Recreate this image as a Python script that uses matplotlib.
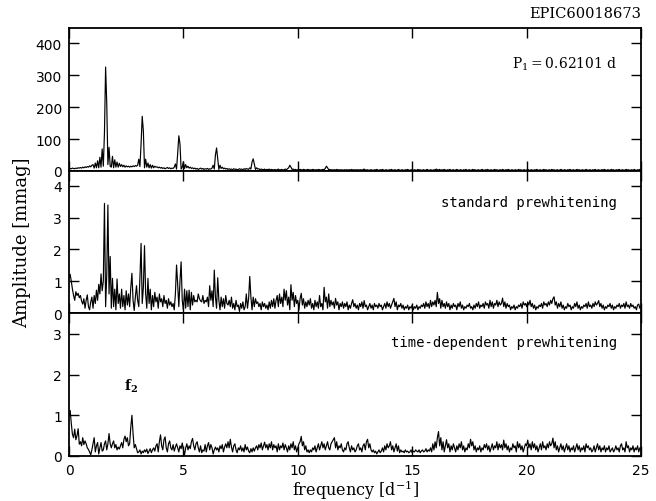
import numpy as np
import matplotlib
matplotlib.use("Agg")
import matplotlib.pyplot as plt

plt.rcParams["mathtext.fontset"] = "dejavuserif"

# Frequency sampling of the amplitude spectra [d^-1]
f_step = 0.05

# Original light curve spectrum [mmag]
amp_original = [
    6, 8, 7, 9, 8, 7, 9, 8, 10, 9,
    11, 9, 12, 10, 13, 11, 14, 12, 16, 13,
    18, 20, 9, 25, 10, 32, 10, 43, 12, 69,
    15, 120, 325, 210, 20, 74, 15, 12, 46, 10,
    35, 12, 28, 12, 24, 14, 20, 13, 18, 12,
    16, 13, 15, 12, 15, 13, 16, 14, 17, 15,
    18, 37, 14, 85, 171, 125, 10, 37, 12, 25,
    10, 20, 9, 18, 10, 15, 12, 13, 10, 12,
    9, 11, 8, 10, 7, 9, 11, 8, 10, 7,
    9, 8, 12, 22, 6, 55, 110, 85, 6, 12,
    29, 8, 20, 10, 15, 9, 12, 8, 10, 7,
    9, 6, 8, 5, 7, 9, 6, 8, 5, 7,
    6, 8, 5, 7, 6, 9, 18, 6, 50, 72,
    40, 5, 18, 8, 12, 7, 9, 6, 8, 5,
    7, 5, 6, 4, 7, 5, 6, 4, 5, 7,
    5, 6, 4, 7, 5, 8, 6, 5, 10, 6,
    28, 38, 22, 5, 10, 6, 7, 4, 6, 5,
    4, 6, 3, 5, 4, 6, 3, 5, 4, 3,
    5, 3, 4, 6, 3, 4, 5, 3, 4, 6,
    4, 7, 10, 18, 12, 5, 6, 4, 5, 3,
    4, 3, 5, 4, 3, 5, 4, 3, 4, 5,
    3, 4, 3, 5, 4, 3, 4, 3, 5, 4,
    3, 4, 5, 4, 8, 15, 10, 4, 5, 3,
    4, 3, 4, 3, 5, 3, 4, 3, 4, 3,
    3, 4, 3, 4, 3, 4, 3, 5, 3, 4,
    3, 4, 3, 4, 3, 4, 3, 4, 6, 3,
    3, 4, 2, 3, 4, 3, 2, 4, 3, 5,
    3, 2, 4, 3, 5, 3, 2, 4, 3, 2,
    4, 3, 5, 2, 3, 4, 2, 3, 5, 3,
    2, 4, 3, 2, 4, 3, 5, 3, 2, 4,
    3, 2, 4, 3, 2, 5, 3, 4, 2, 3,
    4, 2, 3, 5, 3, 2, 4, 3, 2, 4,
    3, 6, 4, 3, 5, 2, 4, 3, 5, 3,
    2, 4, 3, 5, 2, 3, 4, 2, 3, 5,
    3, 2, 4, 3, 2, 4, 3, 5, 2, 3,
    4, 2, 3, 5, 3, 4, 2, 3, 4, 2,
    3, 5, 3, 2, 4, 3, 5, 2, 3, 4,
    2, 3, 5, 3, 4, 2, 3, 4, 2, 5,
    3, 2, 4, 3, 5, 3, 2, 4, 3, 2,
    4, 3, 2, 5, 3, 4, 2, 3, 4, 2,
    3, 5, 3, 2, 4, 3, 2, 4, 3, 5,
    2, 3, 4, 2, 3, 5, 3, 4, 2, 3,
    4, 2, 5, 3, 4, 2, 3, 4, 2, 3,
    5, 3, 2, 4, 3, 2, 4, 3, 5, 2,
    3, 4, 2, 3, 5, 3, 4, 2, 3, 4,
    2, 3, 5, 3, 2, 4, 3, 2, 4, 3,
    5, 2, 3, 4, 2, 3, 4, 3, 5, 3,
    2, 4, 3, 2, 5, 3, 4, 2, 3, 4,
    3, 5, 2, 3, 4, 2, 3, 5, 3, 4,
    2, 3, 4, 2, 5, 3, 2, 4, 3, 5,
    3,
]

# Residual spectrum after standard prewhitening [0.01 mmag]
amp_standard = [
    110, 122, 100, 75, 55, 40, 67, 55, 62, 48,
    55, 38, 28, 45, 15, 40, 57, 20, 10, 35,
    50, 15, 55, 30, 72, 40, 90, 60, 123, 70,
    100, 345, 20, 120, 340, 60, 178, 15, 109, 20,
    75, 10, 107, 30, 60, 15, 75, 20, 55, 10,
    70, 25, 60, 20, 80, 125, 40, 8, 50, 86,
    40, 20, 110, 219, 30, 80, 212, 60, 15, 109,
    30, 75, 10, 55, 20, 65, 35, 50, 15, 60,
    35, 45, 20, 55, 30, 40, 15, 45, 25, 35,
    20, 30, 10, 60, 151, 90, 20, 100, 161, 40,
    10, 75, 15, 70, 20, 72, 10, 65, 25, 55,
    35, 40, 35, 60, 45, 38, 35, 55, 30, 40,
    35, 50, 20, 86, 40, 70, 20, 135, 50, 15,
    111, 40, 10, 50, 20, 45, 15, 55, 30, 25,
    40, 20, 50, 15, 30, 10, 40, 20, 25, 5,
    30, 15, 35, 10, 20, 60, 15, 45, 115, 50,
    10, 50, 20, 45, 30, 35, 20, 30, 10, 35,
    20, 30, 15, 25, 10, 35, 15, 40, 20, 45,
    15, 40, 55, 20, 60, 30, 50, 20, 75, 40,
    70, 25, 50, 10, 89, 40, 65, 20, 55, 30,
    40, 10, 45, 62, 25, 45, 15, 35, 20, 40,
    25, 45, 15, 30, 10, 40, 20, 35, 15, 55,
    20, 30, 10, 81, 35, 50, 15, 60, 20, 40,
    25, 35, 15, 46, 25, 35, 10, 30, 20, 35,
    15, 30, 20, 35, 10, 25, 15, 30, 42, 20,
    30, 15, 25, 10, 30, 20, 35, 15, 39, 20,
    25, 10, 20, 30, 15, 25, 10, 30, 20, 25,
    15, 30, 20, 25, 10, 20, 30, 15, 35, 20,
    30, 15, 25, 35, 46, 20, 35, 10, 25, 20,
    30, 15, 25, 10, 20, 15, 25, 10, 20, 15,
    25, 10, 20, 15, 25, 10, 20, 15, 25, 20,
    30, 15, 35, 20, 30, 15, 40, 20, 35, 25,
    40, 20, 65, 30, 45, 15, 40, 20, 30, 15,
    35, 20, 30, 10, 25, 15, 30, 20, 25, 10,
    30, 20, 35, 15, 25, 10, 20, 15, 25, 20,
    30, 15, 20, 10, 25, 15, 30, 20, 35, 15,
    25, 20, 30, 15, 35, 25, 30, 15, 40, 20,
    35, 15, 30, 25, 40, 20, 35, 25, 30, 47,
    20, 35, 15, 30, 20, 25, 10, 20, 15, 25,
    10, 20, 15, 25, 20, 30, 15, 35, 25, 30,
    20, 35, 25, 40, 20, 30, 15, 25, 10, 20,
    15, 25, 20, 30, 15, 35, 25, 30, 20, 35,
    25, 40, 30, 45, 51, 25, 35, 15, 30, 20,
    35, 15, 25, 10, 20, 15, 30, 20, 25, 10,
    20, 15, 30, 20, 35, 15, 25, 10, 20, 15,
    25, 20, 30, 15, 35, 20, 25, 15, 30, 20,
    35, 25, 30, 39, 20, 30, 15, 25, 10, 20,
    15, 25, 20, 30, 15, 25, 10, 20, 15, 25,
    20, 30, 15, 25, 20, 30, 15, 35, 20, 25,
    15, 30, 20, 25, 15, 20, 10, 25, 28, 15,
    20,
]

# Residual spectrum after time-dependent prewhitening [0.01 mmag]
amp_timedep = [
    100, 112, 80, 53, 45, 66, 40, 50, 67, 29,
    35, 25, 45, 28, 37, 30, 20, 16, 10, 3,
    15, 30, 45, 10, 25, 33, 5, 20, 33, 12,
    15, 30, 37, 15, 30, 55, 30, 20, 30, 37,
    20, 28, 15, 22, 17, 25, 33, 20, 41, 49,
    35, 45, 25, 30, 70, 100, 55, 20, 28, 18,
    8, 10, 15, 5, 12, 8, 15, 10, 17, 6,
    12, 18, 8, 15, 20, 12, 25, 30, 10, 35,
    52, 25, 15, 40, 47, 20, 10, 30, 37, 20,
    15, 28, 12, 22, 30, 20, 10, 25, 18, 32,
    15, 3, 20, 30, 15, 25, 18, 35, 43, 25,
    15, 30, 35, 20, 10, 25, 8, 15, 12, 28,
    10, 25, 33, 15, 28, 20, 5, 15, 22, 15,
    20, 10, 25, 18, 28, 10, 22, 30, 20, 35,
    20, 41, 22, 10, 25, 30, 15, 8, 20, 15,
    25, 12, 20, 10, 28, 15, 22, 12, 8, 18,
    10, 20, 12, 20, 25, 15, 28, 20, 32, 15,
    25, 34, 20, 28, 15, 30, 20, 35, 15, 28,
    20, 25, 10, 30, 15, 25, 20, 32, 15, 28,
    20, 10, 25, 15, 30, 20, 35, 15, 25, 10,
    20, 30, 35, 48, 25, 35, 15, 25, 10, 15,
    8, 15, 10, 20, 15, 25, 10, 20, 30, 15,
    25, 35, 20, 30, 15, 25, 35, 20, 15, 30,
    35, 40, 45, 20, 35, 15, 25, 20, 30, 15,
    10, 20, 15, 30, 35, 20, 10, 25, 15, 20,
    10, 15, 25, 30, 15, 20, 10, 25, 30, 15,
    35, 41, 20, 30, 15, 10, 15, 8, 12, 5,
    10, 15, 8, 12, 20, 10, 25, 15, 30, 20,
    25, 35, 15, 25, 10, 20, 30, 12, 25, 8,
    15, 10, 12, 8, 15, 10, 12, 8, 10, 15,
    8, 12, 10, 15, 12, 10, 15, 8, 12, 15,
    10, 12, 18, 10, 15, 12, 20, 10, 30, 15,
    35, 20, 45, 60, 25, 45, 15, 35, 10, 25,
    40, 20, 30, 10, 25, 15, 30, 20, 10, 25,
    15, 30, 20, 35, 15, 25, 10, 20, 15, 30,
    20, 41, 25, 35, 15, 25, 10, 20, 15, 25,
    10, 20, 15, 28, 20, 30, 15, 25, 10, 20,
    30, 15, 25, 20, 35, 15, 30, 20, 28, 15,
    39, 20, 30, 15, 25, 10, 20, 15, 30, 20,
    25, 10, 35, 20, 30, 15, 25, 10, 20, 30,
    25, 39, 20, 30, 15, 35, 20, 30, 15, 25,
    10, 20, 30, 15, 35, 20, 25, 15, 30, 20,
    35, 25, 30, 44, 20, 35, 15, 25, 10, 20,
    30, 15, 25, 10, 20, 30, 15, 25, 10, 20,
    15, 25, 10, 20, 30, 15, 25, 10, 20, 15,
    25, 10, 30, 20, 25, 15, 20, 10, 15, 25,
    10, 20, 30, 15, 25, 10, 20, 15, 25, 10,
    20, 15, 25, 10, 15, 20, 10, 15, 25, 15,
    20, 10, 25, 30, 15, 20, 10, 35, 20, 25,
    10, 20, 15, 25, 10, 20, 15, 25, 10, 20,
    15,
]

panel_labels = ["$\\mathrm{P_1 = 0.62101\\ d}$", "standard prewhitening",
                "time-dependent prewhitening"]
y_limits = [447, 4.47, 3.51]
y_ticks = [[0, 100, 200, 300, 400], [0, 1, 2, 3, 4], [0, 1, 2, 3]]
x_ticks = [0, 5, 10, 15, 20, 25]
star_name = "EPIC60018673"
f2_freq, f2_amp = 2.75, 1.00

spectra = [np.array(amp_original, float),
           np.array(amp_standard, float) / 100.0,
           np.array(amp_timedep, float) / 100.0]
freq = np.arange(len(amp_original)) * f_step

fig = plt.figure(figsize=(6.56, 5.02), dpi=100)
left, right = 69 / 656, 641 / 656
edges = [1 - 29 / 502, 1 - 172 / 502, 1 - 314 / 502, 1 - 457 / 502]

axes = []
for k in range(3):
    ax = fig.add_axes([left, edges[k + 1], right - left, edges[k] - edges[k + 1]])
    ax.plot(freq, spectra[k], color="black", lw=0.85)
    ax.set_xlim(0, 25)
    ax.set_ylim(0, y_limits[k])
    ax.set_xticks(x_ticks)
    ax.set_yticks(y_ticks[k])
    ax.tick_params(direction="in", top=True, right=True, length=7, width=1.0,
                   labelsize=10, pad=5)
    ax.minorticks_off()
    for s in ax.spines.values():
        s.set_linewidth(1.3)
    if k < 2:
        ax.tick_params(labelbottom=False)
    axes.append(ax)

# Panel annotations
axes[0].text(0.958, 0.75, panel_labels[0], transform=axes[0].transAxes,
             ha="right", va="center", fontsize=10, family="DejaVu Serif")
axes[1].text(0.958, 0.785, panel_labels[1], transform=axes[1].transAxes,
             ha="right", va="center", fontsize=10, family="DejaVu Sans Mono")
axes[2].text(0.958, 0.80, panel_labels[2], transform=axes[2].transAxes,
             ha="right", va="center", fontsize=10, family="DejaVu Sans Mono")
axes[2].text(f2_freq - 0.05, f2_amp + 0.74, "$\\mathbf{f_2}$", ha="center",
             va="center", fontsize=10)

fig.text(right, 1 - 14 / 502, star_name, ha="right", va="center",
         fontsize=10.5, family="DejaVu Serif")
fig.text(22 / 656, 1 - 243 / 502, "Amplitude [mmag]", rotation=90,
         ha="center", va="center", fontsize=13, family="DejaVu Serif")
fig.text((left + right) / 2, 1 - 490 / 502, "frequency [d$^{-1}$]",
         ha="center", va="center", fontsize=11.5, family="DejaVu Serif")

fig.savefig("out.png", dpi=100)
